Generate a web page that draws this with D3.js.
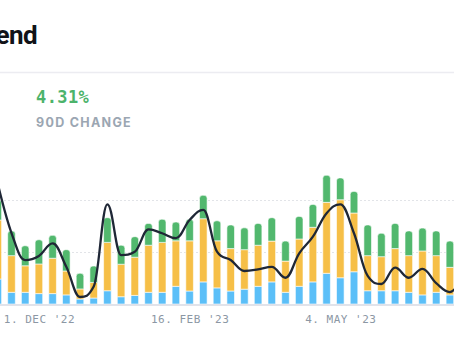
<!DOCTYPE html>
<html>
<head>
<meta charset="utf-8">
<script src="https://cdn.jsdelivr.net/npm/d3@7/dist/d3.min.js"></script>
<style>
  html, body { margin: 0; padding: 0; background: #fff; }
  svg { display: block; }
</style>
</head>
<body>
<svg id="chart" width="454" height="341"></svg>
<script>
// Weekly buckets (week start dates)
const weeks = [
  "2022-11-10","2022-11-17","2022-11-24","2022-12-01","2022-12-08","2022-12-15","2022-12-22",
  "2022-12-29","2023-01-05","2023-01-12","2023-01-19","2023-01-26","2023-02-02","2023-02-09",
  "2023-02-16","2023-02-23","2023-03-02","2023-03-09","2023-03-16","2023-03-23","2023-03-30",
  "2023-04-06","2023-04-13","2023-04-20","2023-04-27","2023-05-04","2023-05-11","2023-05-18",
  "2023-05-25","2023-06-01","2023-06-08","2023-06-15","2023-06-22","2023-06-29","2023-07-06"
];

// Stacked series, bottom to top
const seriesBlue = [
  9.6, 4.5, 4.5, 4.0, 4.0, 3.5, 1.9, 2.3, 5.1, 2.8, 3.3, 4.5, 4.5, 6.8, 5.0, 8.5, 6.2, 5.0,
  5.7, 6.8, 8.5, 4.5, 6.8, 8.5, 11.8, 10.1, 12.4, 5.1, 5.1, 5.1, 4.5, 3.5, 4.5, 3.5, 4.0
];
const seriesYellow = [
  22.7, 14.1, 10.2, 11.4, 13.6, 9.2, 3.9, 6.0, 18.6, 12.5, 14.7, 18.1, 19.2, 17.5, 19.3, 24.3,
  18.1, 16.3, 15.2, 15.8, 15.7, 12.0, 18.2, 21.0, 27.3, 30.0, 22.6, 13.5, 13.1, 16.2, 14.1,
  16.9, 14.1, 10.6, 12.0
];
const seriesGreen = [
  7.7, 9.5, 7.7, 9.3, 8.8, 8.2, 6.0, 6.3, 9.5, 7.3, 7.9, 8.4, 8.9, 7.2, 8.3, 9.0, 7.7, 9.1,
  8.4, 8.4, 9.0, 7.7, 8.7, 8.8, 10.4, 8.4, 8.3, 11.8, 9.0, 9.7, 9.5, 8.8, 9.5, 10.1, 9.0
];

// Smoothed trend line
const trend = [
  46.2, 27.3, 16.9, 18.5, 23.3, 14.3, 2.7, 6.7, 38.3, 18.8, 20.1, 28.7, 27.2, 25.3, 32.3, 36.2,
  20.1, 16.9, 12.7, 13.3, 14.3, 10.1, 19.5, 25.9, 34.9, 38.3, 27.2, 10.8, 7.7, 14.0, 10.1,
  13.5, 8.0, 4.6, 11.0
];

// Axis ticks and labels
const tickDates = ["2022-12-01", "2023-02-16", "2023-05-04"];
const gridValues = [20, 40];
const headline = "4.31%";
const subline = "90D CHANGE";
const title = "Trend";

const parse = d3.utcParse("%Y-%m-%d");
const data = weeks.map((w, i) => ({
  date: parse(w),
  blue: seriesBlue[i],
  yellow: seriesYellow[i],
  green: seriesGreen[i],
  trend: trend[i]
}));

const svg = d3.select("#chart");
const W = 454, H = 341;

svg.append("rect").attr("width", W).attr("height", H).attr("fill", "#fff");

// Header
svg.append("text")
  .attr("x", 37).attr("y", 44)
  .attr("text-anchor", "end")
  .attr("font-family", "Roboto, 'Noto Sans', sans-serif")
  .attr("font-weight", 700)
  .attr("font-size", 26)
  .attr("letter-spacing", -0.6)
  .attr("fill", "#111318")
  .text(title);

svg.append("line")
  .attr("x1", 0).attr("x2", W).attr("y1", 72.5).attr("y2", 72.5)
  .attr("stroke", "#ececf1").attr("stroke-width", 1.5);

svg.append("text")
  .attr("x", 36).attr("y", 102.5)
  .attr("font-family", "'DejaVu Sans Mono', monospace")
  .attr("font-weight", 700)
  .attr("font-size", 17)
  .attr("letter-spacing", 0.4)
  .attr("fill", "#4cb36b")
  .text(headline);

svg.append("text")
  .attr("x", 36).attr("y", 127)
  .attr("font-family", "Inter, Lato, sans-serif")
  .attr("font-weight", 700)
  .attr("font-size", 12.5)
  .attr("letter-spacing", 1.3)
  .attr("fill", "#9ba6b2")
  .text(subline);

// Scales
const x = d3.scaleUtc()
  .domain([parse(weeks[0]), parse(weeks[33])])
  .range([-2.2, 449.9]);

const y = d3.scaleLinear()
  .domain([0, 50])
  .range([304, 174]);

// Grid lines
const grid = svg.append("g")
  .call(d3.axisLeft(y).tickValues(gridValues).tickSize(-W).tickFormat(""));
grid.select(".domain").remove();
grid.selectAll(".tick line")
  .attr("stroke", "#e2e4e8")
  .attr("stroke-width", 1)
  .attr("stroke-dasharray", "2,2");

// Stacked bars
const keys = ["blue", "yellow", "green"];
const colors = { blue: "#5bbff8", yellow: "#f6bf47", green: "#52b86e" };
const stacked = d3.stack().keys(keys)(data);
const barW = 7.6;
const r = 3;

function topRounded(x0, y0, w, h, rad) {
  const rr = Math.min(rad, h, w / 2);
  return `M${x0},${y0 + h}V${y0 + rr}Q${x0},${y0} ${x0 + rr},${y0}` +
         `H${x0 + w - rr}Q${x0 + w},${y0} ${x0 + w},${y0 + rr}V${y0 + h}Z`;
}

stacked.forEach(layer => {
  const isTop = layer.key === "green";
  svg.append("g").selectAll("path")
    .data(layer)
    .join("path")
    .attr("fill", colors[layer.key])
    .attr("d", d => {
      const x0 = x(d.data.date) - barW / 2;
      const y0 = y(d[1]);
      const h = y(d[0]) - y(d[1]);
      if (isTop) return topRounded(x0, y0, barW, h, r);
      return `M${x0},${y0}h${barW}v${h}h${-barW}Z`;
    })
    .attr("stroke", "#fff")
    .attr("stroke-width", 0.6);
});

// Baseline
svg.append("line")
  .attr("x1", 0).attr("x2", W).attr("y1", y(0) + 1).attr("y2", y(0) + 1)
  .attr("stroke", "#e1e3ea").attr("stroke-width", 2);

// Spline curve: control points 40% toward neighbours, flattened at local extrema
function curveSpline(context) {
  return {
    areaStart() {}, areaEnd() {},
    lineStart() { this._p = []; },
    point(px, py) { this._p.push([+px, +py]); },
    lineEnd() {
      const p = this._p, n = p.length, s = 1.5, den = s + 1;
      if (!n) return;
      const L = [], R = [];
      for (let i = 0; i < n; i++) {
        const [cx, cy] = p[i];
        if (i === 0 || i === n - 1) { L[i] = [cx, cy]; R[i] = [cx, cy]; continue; }
        const [lx, ly] = p[i - 1], [nx, ny] = p[i + 1];
        let lcx = (s * cx + lx) / den, lcy = (s * cy + ly) / den;
        let rcx = (s * cx + nx) / den, rcy = (s * cy + ny) / den;
        if (rcx !== lcx) {
          const corr = ((rcy - lcy) * (rcx - cx)) / (rcx - lcx) + cy - rcy;
          lcy += corr; rcy += corr;
        }
        if (lcy > ly && lcy > cy) { lcy = Math.max(ly, cy); rcy = 2 * cy - lcy; }
        else if (lcy < ly && lcy < cy) { lcy = Math.min(ly, cy); rcy = 2 * cy - lcy; }
        if (rcy > ny && rcy > cy) { rcy = Math.max(ny, cy); lcy = 2 * cy - rcy; }
        else if (rcy < ny && rcy < cy) { rcy = Math.min(ny, cy); lcy = 2 * cy - rcy; }
        L[i] = [lcx, lcy]; R[i] = [rcx, rcy];
      }
      context.moveTo(p[0][0], p[0][1]);
      for (let i = 1; i < n; i++) {
        context.bezierCurveTo(R[i - 1][0], R[i - 1][1], L[i][0], L[i][1], p[i][0], p[i][1]);
      }
    }
  };
}

// Trend line
const line = d3.line()
  .x(d => x(d.date))
  .y(d => y(d.trend))
  .curve(curveSpline);

svg.append("path")
  .datum(data)
  .attr("d", line)
  .attr("fill", "none")
  .attr("stroke", "#1f2736")
  .attr("stroke-width", 2.3)
  .attr("stroke-linejoin", "round");

// X axis
const fmt = d3.utcFormat("%-d. %b '%y");
const xAxis = svg.append("g")
  .attr("transform", `translate(0,${y(0) + 6})`)
  .call(d3.axisBottom(x)
    .tickValues(tickDates.map(parse))
    .tickSize(0)
    .tickFormat(d => fmt(d).toUpperCase()));
xAxis.select(".domain").remove();
xAxis.selectAll("text")
  .attr("font-family", "'DejaVu Sans Mono', monospace")
  .attr("font-size", 11)
  .attr("letter-spacing", 0.5)
  .attr("fill", "#8c97a4")
  .attr("dy", "0.95em");
</script>
</body>
</html>
